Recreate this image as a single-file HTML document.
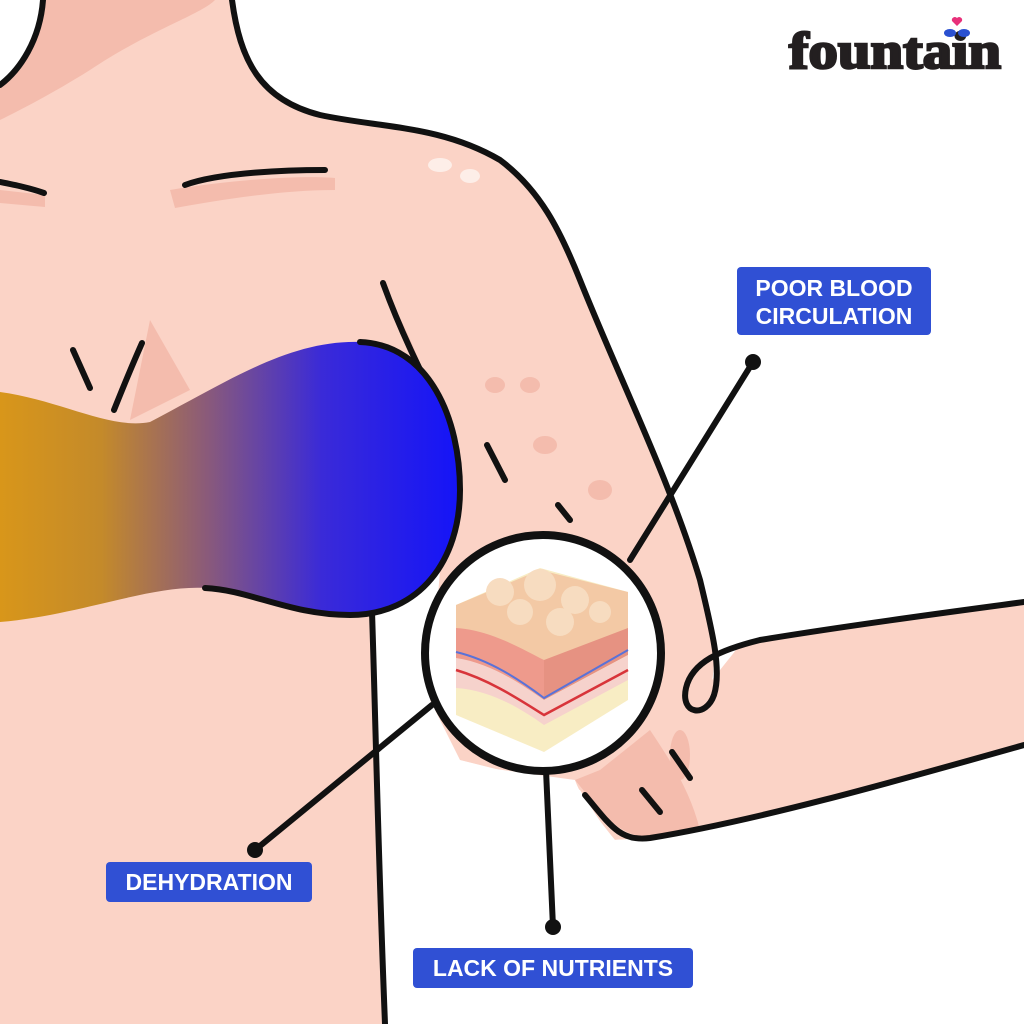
<!DOCTYPE html>
<html><head><meta charset="utf-8"><style>
html,body{margin:0;padding:0;background:#fff;width:1024px;height:1024px;overflow:hidden}
</style></head><body>
<svg width="1024" height="1024" viewBox="0 0 1024 1024" xmlns="http://www.w3.org/2000/svg">
<defs>
<linearGradient id="g" x1="0" x2="1" y1="0" y2="0">
<stop offset="0" stop-color="#d8961a"/><stop offset="0.22" stop-color="#c48a2a"/>
<stop offset="0.45" stop-color="#8a5a7a"/><stop offset="0.7" stop-color="#3a2ad8"/><stop offset="1" stop-color="#1414f8"/>
</linearGradient>
</defs>
<rect width="1024" height="1024" fill="#fff"/>
<path d="M0,85 C20,70 40,40 43,0 L232,0 C240,60 260,100 320,115 C380,128 440,125 500,160 C540,190 560,230 580,280 C620,380 670,480 700,580 C712,630 716,665 712,680 L740,645 C850,625 950,612 1024,602 L1024,745 C900,780 760,820 650,838 L615,840 C595,815 580,795 575,780 L430,760 L372,615 L385,1024 L0,1024 Z" fill="#fbd3c6"/>
<path d="M0,85 C20,70 40,40 43,0 L215,0 C200,15 150,30 90,70 C50,95 20,110 0,120 Z" fill="#f4bcad"/>
<path d="M385,290 C420,350 440,420 460,470 L430,390 Z" fill="#f4bcad"/>
<path d="M150,320 L190,390 L130,420 Z" fill="#f4bcad"/>
<path d="M170,190 C230,180 300,175 335,178 L335,190 C280,190 220,200 175,208 Z" fill="#f4bcad"/>
<path d="M0,190 L45,195 L45,207 L0,203 Z" fill="#f4bcad"/>
<path d="M575,780 C600,810 615,835 650,838 L700,830 C690,790 670,760 650,730 L600,770 Z" fill="#f4bcad"/>
<g fill="#f4bcad"><ellipse cx="495" cy="385" rx="10" ry="8"/><ellipse cx="530" cy="385" rx="10" ry="8"/><ellipse cx="545" cy="445" rx="12" ry="9"/><ellipse cx="600" cy="490" rx="12" ry="10"/><ellipse cx="680" cy="755" rx="10" ry="25"/></g>
<ellipse cx="440" cy="165" rx="12" ry="7" fill="#fdeee8"/><ellipse cx="470" cy="176" rx="10" ry="7" fill="#fdeee8"/>
<!-- white gap between torso and arm -->
<path d="M375,612 L440,570 L430,700 L460,760 L580,790 L612,840 L650,838 C760,820 900,780 1024,745 L1024,1024 L385,1024 Z" fill="#fff"/>
<g fill="none" stroke="#111" stroke-width="6" stroke-linecap="round">
<path d="M43,0 C40,40 20,70 0,85"/>
<path d="M232,0 C240,60 260,100 320,115 C380,128 440,125 500,160 C540,190 560,230 580,280 C620,380 670,480 700,580 C712,630 722,670 714,695 C706,718 680,715 686,688 C692,662 720,650 760,640 C850,625 950,612 1024,602"/>
<path d="M1024,745 C900,780 760,820 650,838 C620,842 610,825 585,795"/>
<path d="M372,612 C375,700 378,850 385,1024"/>
<path d="M185,185 C220,172 290,170 325,170"/>
<path d="M0,182 C15,185 30,188 44,193"/>
<path d="M383,283 C400,330 420,370 440,410"/>
<path d="M73,350 L90,388"/><path d="M142,343 C130,370 120,395 114,410"/>
<path d="M487,445 L505,480"/><path d="M558,505 L570,520"/>
<path d="M672,752 L690,778"/><path d="M642,790 L660,812"/>
</g>
<path d="M0,392 C60,400 110,430 150,422 C230,380 290,340 360,342 C430,345 460,420 460,490 C460,560 420,615 350,615 C290,615 250,590 205,588 C150,585 80,615 0,622 Z" fill="url(#g)"/>
<path d="M360,342 C430,345 460,420 460,490 C460,560 420,615 350,615 C290,615 250,590 205,588" fill="none" stroke="#111" stroke-width="6" stroke-linecap="round"/>
<g stroke="#111" stroke-width="6" stroke-linecap="round">
<line x1="753" y1="362" x2="630" y2="560"/>
<line x1="255" y1="850" x2="432" y2="705"/>
<line x1="553" y1="927" x2="546" y2="770"/>
</g>
<g fill="#111"><circle cx="753" cy="362" r="8"/><circle cx="255" cy="850" r="8"/><circle cx="553" cy="927" r="8"/></g>
<circle cx="543" cy="653" r="118" fill="#fff" stroke="#111" stroke-width="8"/>
<path d="M456,605 L540,568 L628,592 L628,700 L544,752 L456,715 Z" fill="#f8edc4"/>
<path d="M456,605 L540,570 L628,592 L628,630 L544,665 L456,632 Z" fill="#f3c9a5"/>
<path d="M456,628 C490,630 520,648 544,660 L544,700 C520,685 490,665 456,660 Z" fill="#ee9a8c"/>
<path d="M544,660 L628,628 L628,655 L544,700 Z" fill="#e69282"/>
<path d="M456,658 C490,663 520,683 544,700 L628,655 L628,680 L544,725 C520,708 490,690 456,688 Z" fill="#f6d2cc"/>
<path d="M456,652 C490,660 520,680 544,698 L628,650" fill="none" stroke="#5a72d8" stroke-width="2"/>
<path d="M456,670 C490,680 520,700 544,715 L628,670" fill="none" stroke="#d8343a" stroke-width="2.5"/>
<g fill="#f7dcc0"><circle cx="500" cy="592" r="14"/><circle cx="540" cy="585" r="16"/><circle cx="575" cy="600" r="14"/><circle cx="520" cy="612" r="13"/><circle cx="560" cy="622" r="14"/><circle cx="600" cy="612" r="11"/></g>
<g font-family="'Liberation Sans',sans-serif" font-weight="bold" fill="#fff">
<rect x="737" y="267" width="194" height="68" rx="4" fill="#3050d4"/>
<text x="834" y="296" font-size="23" text-anchor="middle">POOR BLOOD</text>
<text x="834" y="324" font-size="23" text-anchor="middle">CIRCULATION</text>
<rect x="106" y="862" width="206" height="40" rx="4" fill="#3050d4"/>
<text x="209" y="890" font-size="23" text-anchor="middle">DEHYDRATION</text>
<rect x="413" y="948" width="280" height="40" rx="4" fill="#3050d4"/>
<text x="553" y="976" font-size="23" text-anchor="middle">LACK OF NUTRIENTS</text>
</g>
<text x="789" y="68" font-family="'Liberation Serif',serif" font-weight="bold" font-size="52" fill="#231f20" stroke="#231f20" stroke-width="2.5" textLength="212" lengthAdjust="spacingAndGlyphs">fountain</text>
<path d="M957,26 l-5,-5 a3,3 0 0 1 5,-3 a3,3 0 0 1 5,3 z" fill="#e8307a"/>
<ellipse cx="950" cy="33" rx="6" ry="4" fill="#2a50d0"/><ellipse cx="964" cy="33" rx="6" ry="4" fill="#2a50d0"/>
</svg>
</body></html>
